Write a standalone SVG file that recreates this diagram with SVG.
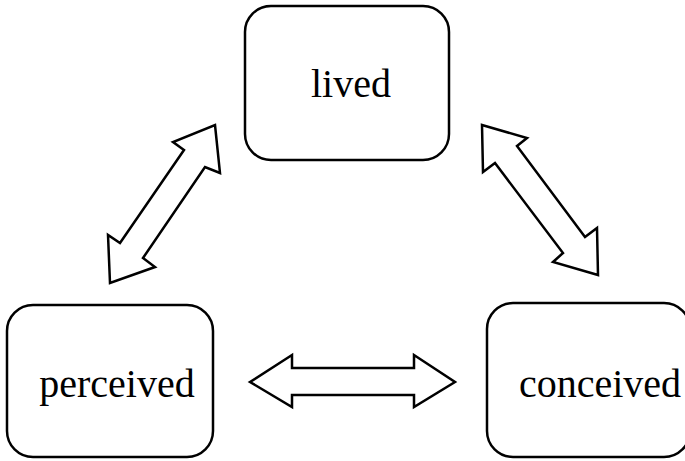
<svg xmlns="http://www.w3.org/2000/svg" width="685" height="461" viewBox="0 0 685 461">
<style>
.box{fill:#fff;stroke:#000;stroke-width:2.5}
.arr{fill:#fff;stroke:#000;stroke-width:2.5;stroke-linejoin:miter}
.lbl{font-family:"Liberation Serif","DejaVu Serif",serif;font-size:40px;fill:#000}
</style>
<rect width="685" height="461" fill="#fff"/>
<g id="lived">
<rect class="box" x="245" y="6" width="204" height="154" rx="26" ry="26"/>
<text class="lbl" x="351" y="97" text-anchor="middle">lived</text>
</g>
<g id="perceived">
<rect class="box" x="7" y="305" width="206" height="152" rx="26" ry="26"/>
<text class="lbl" x="117" y="397" text-anchor="middle">perceived</text>
</g>
<g id="conceived">
<rect class="box" x="487" y="303" width="203" height="154" rx="26" ry="26"/>
<text class="lbl" x="600" y="397" text-anchor="middle">conceived</text>
</g>
<g id="connectors">
<polygon class="arr" points="215,125 220,173 205,167 143,258 155,267 110,283 108,235 120,243 184,150 173,142"/>
<polygon class="arr" points="482,125 527,138 517,146 585,237 597,228 598,275 553,262 563,253 495,163 483,172"/>
<polygon class="arr" points="250,382 292,355 292,368 414,368 414,355 455,382 414,407 414,395 292,395 292,407"/>
</g>
</svg>
